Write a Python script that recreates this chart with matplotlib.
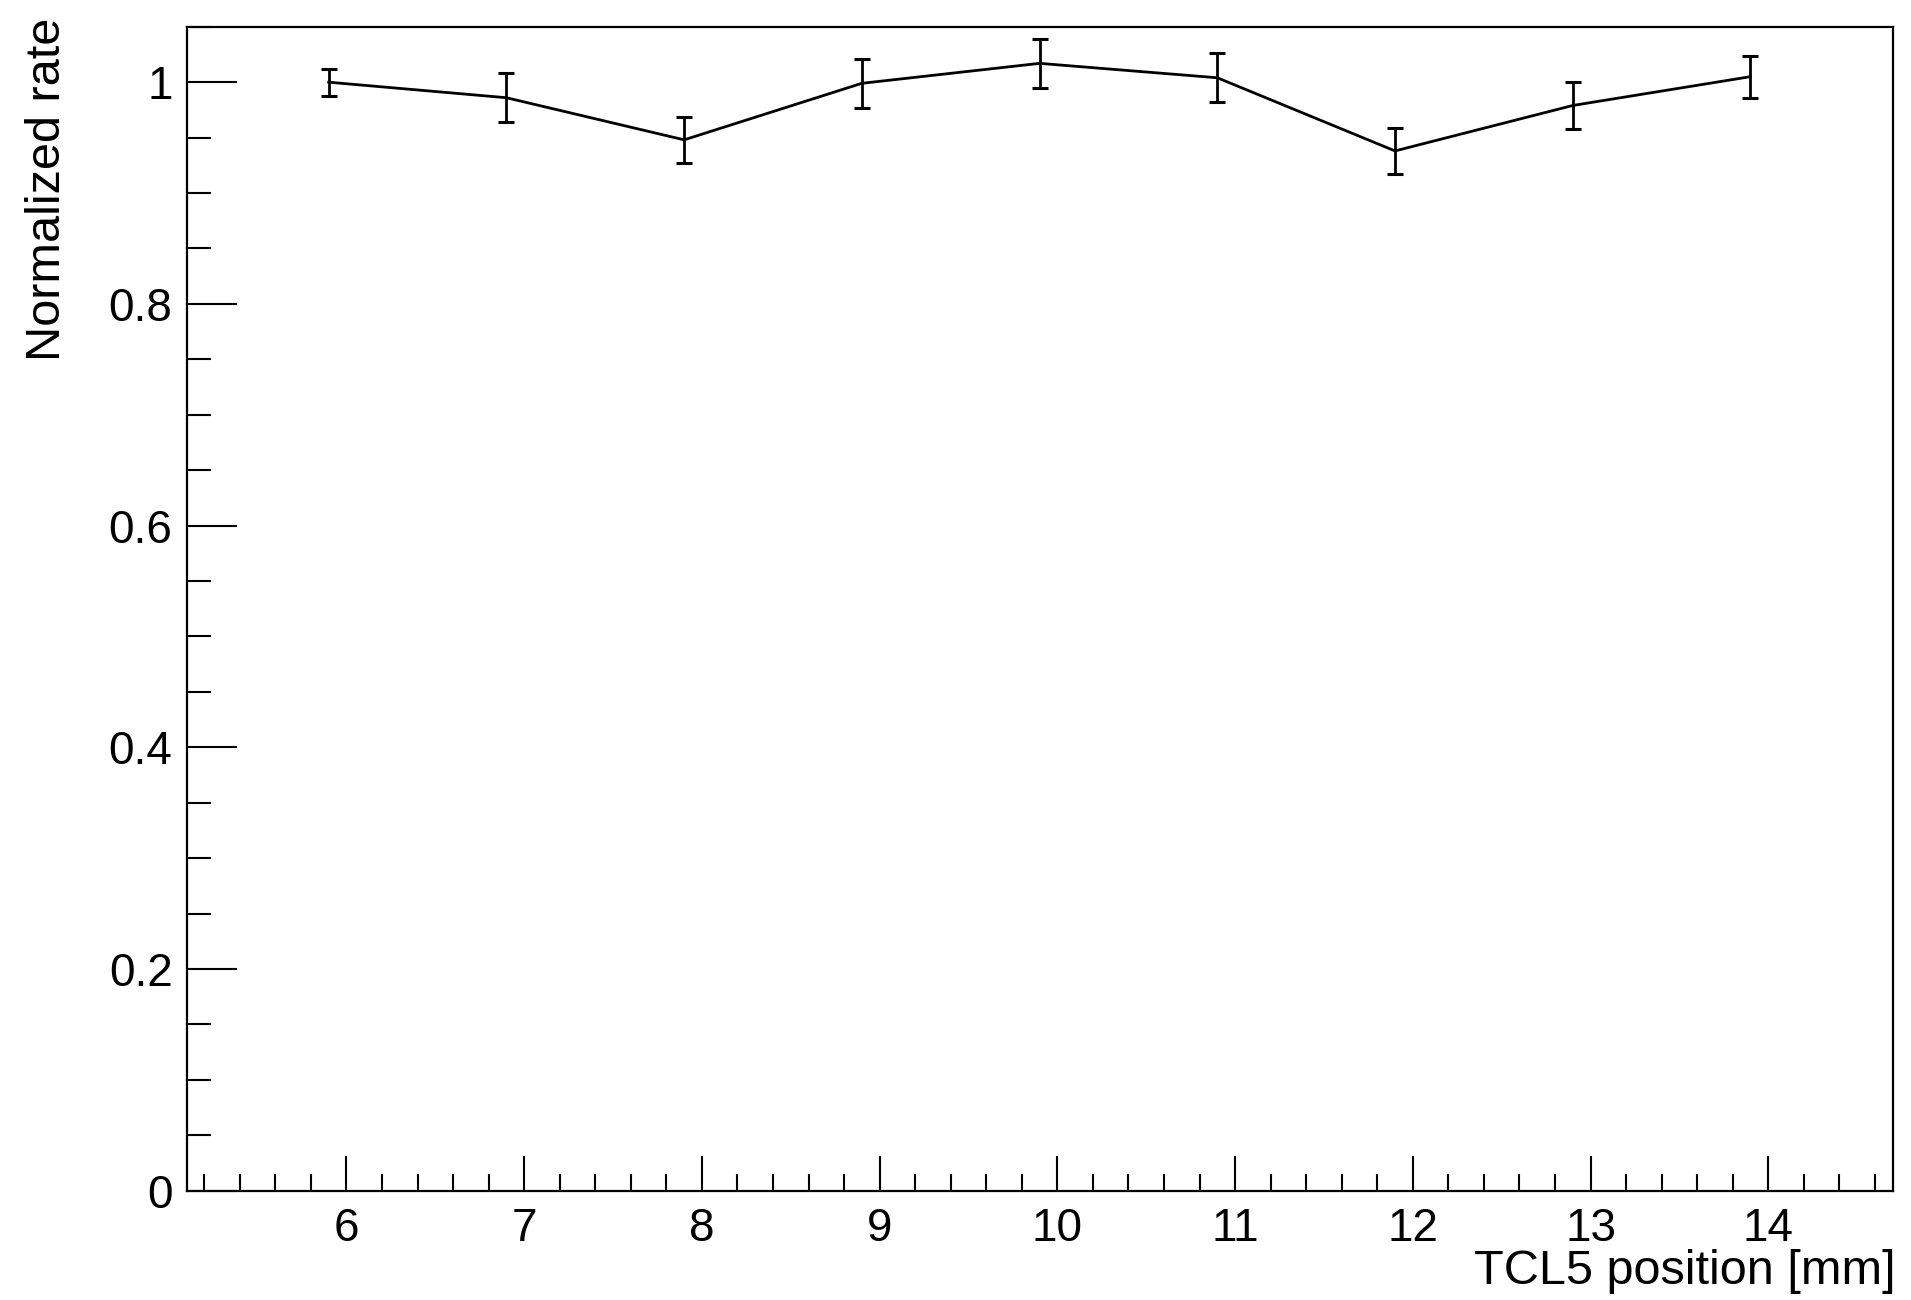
import matplotlib
matplotlib.use("Agg")
import matplotlib.pyplot as plt
from matplotlib.ticker import MultipleLocator, FuncFormatter

plt.rcParams['font.family'] = ['Liberation Sans', 'DejaVu Sans']

# TCL5 scan: normalized rate vs collimator position
positions = [5.9, 6.9, 7.9, 8.9, 9.9, 10.9, 11.9, 12.9, 13.9]
rates = [1.000, 0.986, 0.948, 0.999, 1.017, 1.004, 0.938, 0.979, 1.005]
rate_errors = [0.012, 0.022, 0.021, 0.022, 0.022, 0.022, 0.021, 0.021, 0.019]

x_label = "TCL5 position [mm]"
y_label = "Normalized rate"

fig = plt.figure(figsize=(19.11, 13.0), dpi=100)
ax = fig.add_axes([0.0976, 0.0841, 0.8928, 0.8953])

ax.errorbar(positions, rates, yerr=rate_errors, fmt='-', color='black',
            linewidth=2.0, elinewidth=2.0, capsize=5.5, capthick=2.2)

ax.set_xlim(5.1, 14.7)
ax.set_ylim(0, 1.05)

ax.xaxis.set_major_locator(MultipleLocator(1))
ax.xaxis.set_minor_locator(MultipleLocator(0.2))
ax.yaxis.set_major_locator(MultipleLocator(0.2))
ax.yaxis.set_minor_locator(MultipleLocator(0.05))
ax.yaxis.set_major_formatter(FuncFormatter(lambda v, p: f"{v:g}"))

for s in ax.spines.values():
    s.set_linewidth(1.6)

ax.tick_params(axis='both', which='both', direction='in', top=False, right=False,
               width=1.5, labelsize=33)
ax.tick_params(axis='y', which='major', length=36, pad=10)
ax.tick_params(axis='y', which='minor', length=17)
ax.tick_params(axis='x', which='major', length=25, pad=12)
ax.tick_params(axis='x', which='minor', length=12.5)

ax.set_xlabel(x_label, fontsize=35, loc='right')
ax.xaxis.set_label_coords(1.002, -0.050)
ax.set_ylabel(y_label, fontsize=35, loc='top')
ax.yaxis.set_label_coords(-0.068, 1.008)

fig.savefig("out.png", dpi=100)
